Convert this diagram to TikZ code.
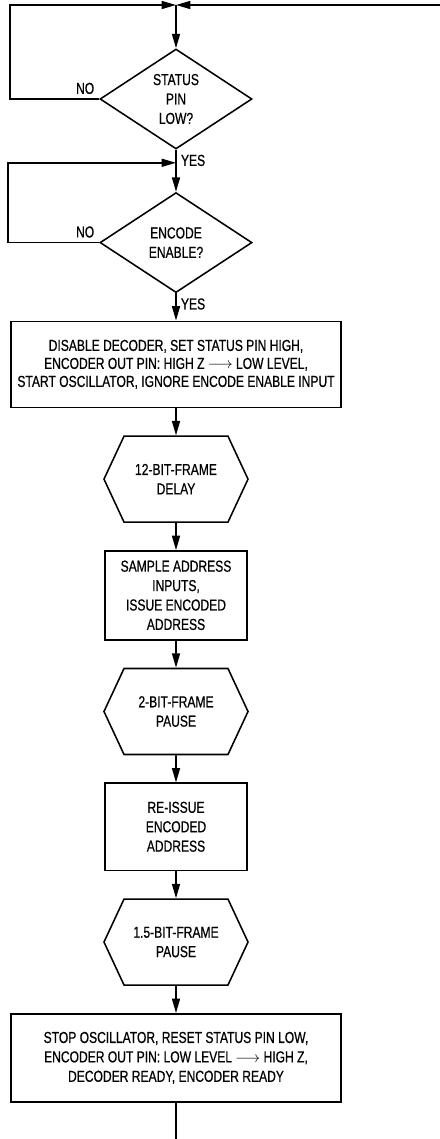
\documentclass[tikz,border=0pt]{standalone}
\usepackage{fontspec}
\setmainfont{Liberation Sans}[FakeStretch=0.76,FakeBold=0.6]
\usetikzlibrary{arrows.meta,shapes.geometric,shapes.symbols,positioning,calc}
\newcommand{\flowfont}{\fontsize{11.3}{13.8}\selectfont}
\tikzset{
  base/.style   ={draw, line width=1.1pt, align=center,
                  font=\flowfont, inner sep=2pt},
  decbox/.style ={base, diamond, shape aspect=1.5, inner sep=0pt,
                  minimum width=3.8cm, minimum height=2.5cm},
  actbox/.style ={base, rectangle, minimum width=#1,
                  minimum height=2.15cm},
  actbox/.default=3.55cm,
  waitbox/.style={base, signal, signal to=west and east,
                  signal pointer angle=130,
                  minimum width=3.6cm, minimum height=2.15cm},
  lbl/.style    ={font=\flowfont, inner sep=3pt},
  arr/.style    ={-{Triangle[length=0.36cm,width=0.2cm]}, line width=1.1pt},
  line/.style   ={line width=1.1pt},
}
\begin{document}
\begin{tikzpicture}[x=0.025cm, y=-0.025cm, node distance=0.68cm]
  \useasboundingbox (0,0) rectangle (440,1139);
  %% entry points
  \coordinate (top) at (176,5);
  \coordinate (ret) at (440,5);
  \coordinate (back) at (10,5);
  \coordinate (bot) at (0,1139);
  %% decisions
  \node[decbox] (pin) at (176,99) {STATUS\\PIN\\LOW?};
  \node[decbox, below=1.05cm of pin] (enc) {ENCODE\\ENABLE?};
  \coordinate (join) at ($(pin.south)+(0,13)$);
  \coordinate (back2) at (8,163);
  %% encode sequence
  \node[actbox=8.25cm, below=of enc,
        font=\fontsize{11.3}{12.8}\selectfont] (start)
    {DISABLE DECODER, SET STATUS PIN HIGH,\\
     ENCODER OUT PIN: HIGH Z $\longrightarrow$ LOW LEVEL,\\
     START OSCILLATOR, IGNORE ENCODE ENABLE INPUT};
  \node[waitbox, below=of start] (dly) {12-BIT-FRAME\\DELAY};
  \node[actbox, minimum height=2.22cm, below=of dly] (smp)
    {SAMPLE ADDRESS\\INPUTS,\\ISSUE ENCODED\\ADDRESS};
  \node[waitbox, below=of smp] (pa) {2-BIT-FRAME\\PAUSE};
  \node[actbox, minimum height=2.175cm, below=of pa] (reis)
    {RE-ISSUE\\ENCODED\\ADDRESS};
  \node[waitbox, below=of reis] (pb) {1.5-BIT-FRAME\\PAUSE};
  \node[actbox=8.25cm, minimum height=2.2cm, below=of pb] (stop)
    {STOP OSCILLATOR, RESET STATUS PIN LOW,\\
     ENCODER OUT PIN: LOW LEVEL $\longrightarrow$ HIGH Z,\\
     DECODER READY, ENCODER READY};
  %% connectors
  \draw[arr] (top) -- (pin);
  \draw[arr] (ret) -- (top);
  \draw[arr] (pin.west) -- node[lbl, pos=0, anchor=south east] {NO}
    (pin.west -| back) -- (back) -- (top);
  \draw[arr] (pin.south) -- node[lbl, pos=0, anchor=north west] {YES} (enc.north);
  \draw[arr] (enc.west) -- node[lbl, pos=0, anchor=south east] {NO}
    (enc.west -| back2) |- (join);
  \draw[arr] (enc.south) -- node[lbl, pos=0, anchor=north west] {YES} (start.north);
  \draw[arr] (start) -- (dly);
  \draw[arr] (dly) -- (smp);
  \draw[arr] (smp) -- (pa);
  \draw[arr] (pa) -- (reis);
  \draw[arr] (reis) -- (pb);
  \draw[arr] (pb) -- (stop);
  \draw[line] (stop.south) -- (stop.south |- bot);
\end{tikzpicture}
\end{document}
